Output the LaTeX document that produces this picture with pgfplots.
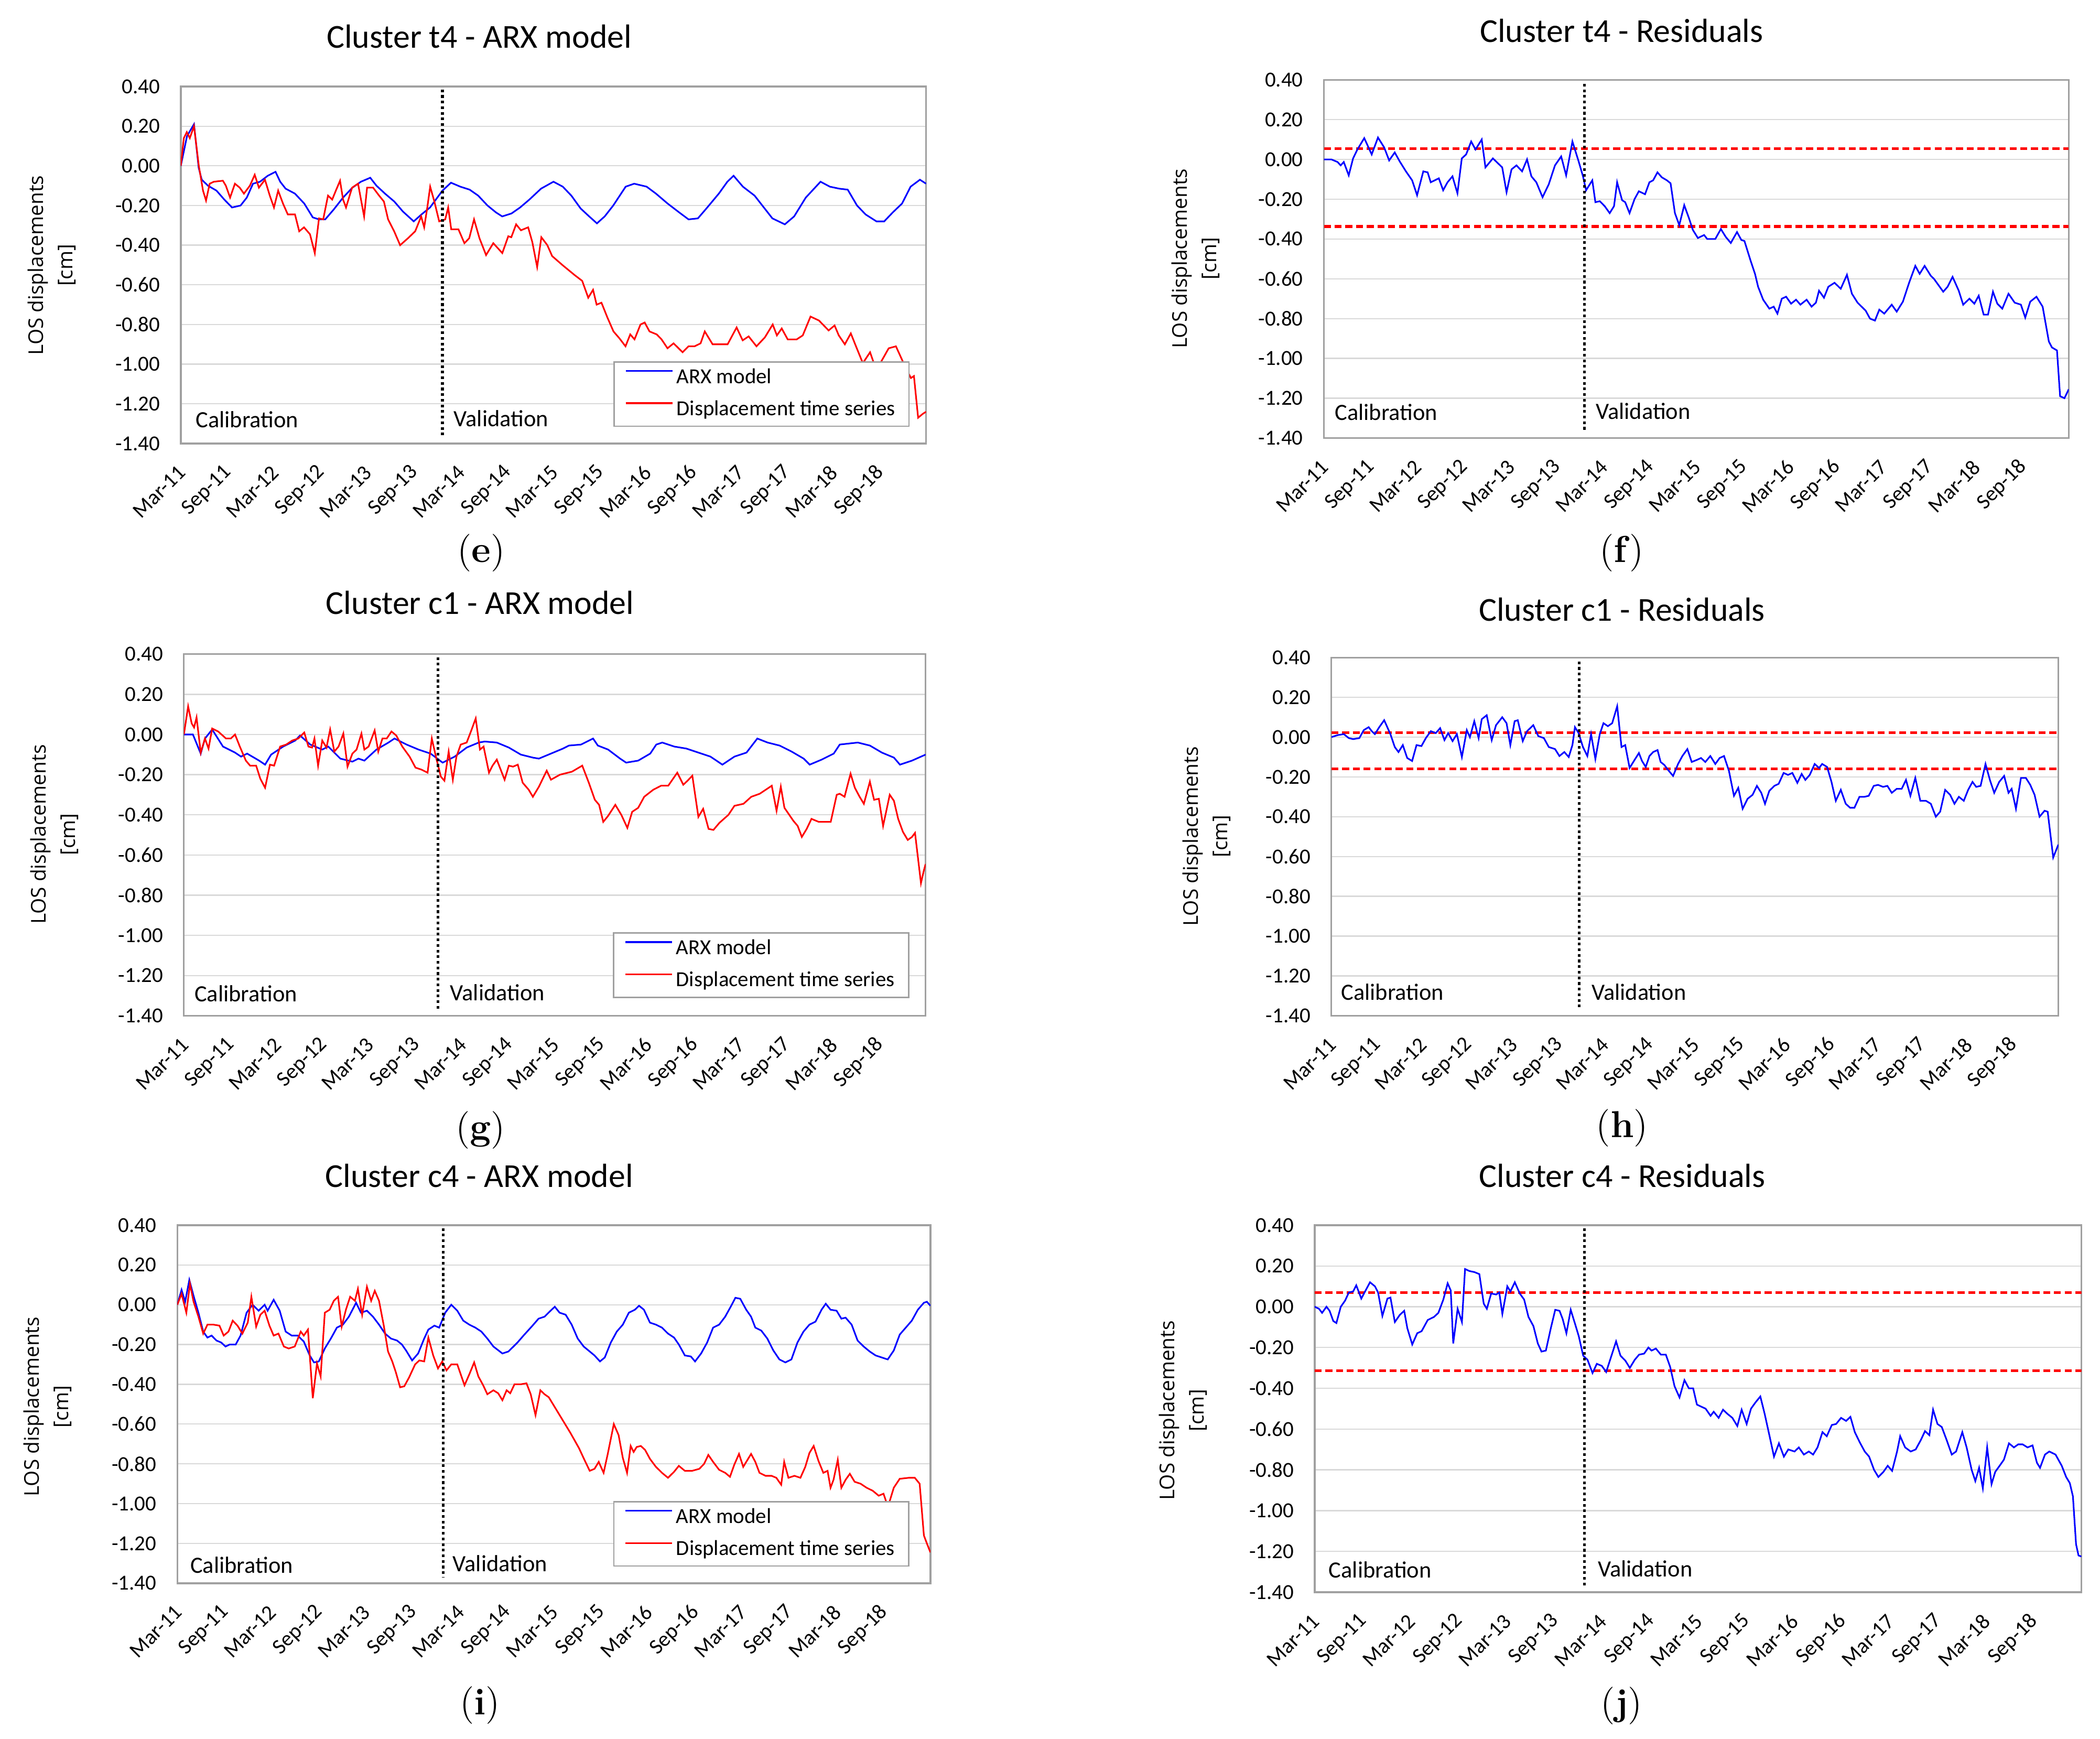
\documentclass[border=0pt]{standalone}
\usepackage{fontspec}
\usepackage{pgfplots}
\pgfplotsset{compat=1.18}
\newfontfamily\calfont{Carlito}
\newfontfamily\osfont{Open Sans}
\definecolor{gridc}{HTML}{D9D9D9}
\definecolor{framec}{HTML}{A0A0A0}
\tikzset{
  blueline/.style={color=blue, line width=0.6pt},
  redline/.style={color=red, line width=0.6pt},
  vline/.style={black, line width=1pt, dash pattern=on 1pt off 1.1pt},
  rline/.style={color=red, line width=1pt, dash pattern=on 2.6pt off 1.4pt},
  ttl/.style={font=\calfont\fontsize{12.5}{15}\selectfont},
  lett/.style={font=\fontsize{14}{16}\selectfont},
  ylab/.style={font=\osfont\fontsize{7.6}{11}\selectfont, rotate=90, align=center},
  inlab/.style={anchor=west, inner sep=0pt, font=\calfont\fontsize{8.7}{10}\selectfont},
}
\pgfplotsset{
  panel/.style={
    scale only axis, anchor=south west,
    xmin=0, xmax=96, ymin=-1.4, ymax=0.4,
    axis line style={draw=framec, line width=0.65pt},
    ytick={-1.4,-1.2,-1,-0.8,-0.6,-0.4,-0.2,0,0.2,0.4},
    yticklabels={-1.40,-1.20,-1.00,-0.80,-0.60,-0.40,-0.20,0.00,0.20,0.40},
    xtick={0,6,12,18,24,30,36,42,48,54,60,66,72,78,84,90},
    xticklabels={Mar-11,Sep-11,Mar-12,Sep-12,Mar-13,Sep-13,Mar-14,Sep-14,Mar-15,Sep-15,Mar-16,Sep-16,Mar-17,Sep-17,Mar-18,Sep-18},
    major tick length=0pt, tick style={draw=none},
    ymajorgrids, grid style={draw=gridc, line width=0.45pt},
    tick label style={font=\calfont\fontsize{8}{9.6}\selectfont},
    yticklabel style={anchor=east, inner sep=0pt, xshift=-7.6pt},
    xticklabel style={inner sep=0pt, xshift=0.5pt, yshift=-9.5pt, rotate=45, anchor=east},
    legend style={anchor=south east, draw=framec, line width=0.5pt, fill=white,
      font=\calfont\fontsize{8}{9.6}\selectfont, inner xsep=4pt, inner ysep=2pt,
      row sep=4pt, nodes={inner xsep=1.2pt, inner ysep=0pt, text height=6pt, text depth=2pt}},
    legend cell align=left,
    legend image code/.code={\draw[#1] (0pt,2.6pt) -- (17.5pt,2.6pt);},
  },
}
\begin{document}
\begin{tikzpicture}
\path[use as bounding box] (0pt,0pt) rectangle (784pt,-649.1pt);

% ---------------- (e) Cluster t4 - ARX model
\begin{axis}[panel, at={(67.5pt,-165.55pt)}, width=278.25pt, height=133.25pt,
  legend style={at={(0.978,0.0465)}}]
\addplot[blueline] coordinates {(0,0.00)(0.8,0.15)(1.7,0.21)(2.3,-0.01)(2.7,-0.07)(3.5,-0.10)(4.6,-0.125)(5.6,-0.17)(6.6,-0.21)(7.7,-0.20)(8.5,-0.16)(9.3,-0.09)(10.2,-0.08)(11.2,-0.05)(12.2,-0.03)(12.8,-0.08)(13.5,-0.115)(14.7,-0.14)(15.9,-0.19)(17.0,-0.26)(17.8,-0.27)(18.6,-0.27)(19.7,-0.22)(20.9,-0.16)(22.1,-0.11)(23.2,-0.08)(24.4,-0.06)(25.2,-0.10)(26.3,-0.14)(27.5,-0.18)(28.6,-0.23)(30.0,-0.28)(31.0,-0.245)(32.1,-0.21)(33.7,-0.125)(34.8,-0.085)(36.0,-0.105)(37.2,-0.12)(38.3,-0.15)(39.5,-0.20)(40.6,-0.235)(41.4,-0.255)(42.6,-0.24)(43.7,-0.21)(44.9,-0.17)(46.4,-0.115)(48.0,-0.08)(49.2,-0.105)(50.3,-0.15)(51.5,-0.215)(52.6,-0.255)(53.6,-0.29)(54.6,-0.255)(55.7,-0.20)(57.3,-0.105)(58.4,-0.09)(60.0,-0.105)(61.2,-0.14)(62.7,-0.19)(64.2,-0.235)(65.4,-0.27)(66.6,-0.265)(67.7,-0.215)(69.3,-0.14)(70.4,-0.08)(71.2,-0.05)(72.4,-0.105)(73.9,-0.15)(75.1,-0.21)(76.2,-0.265)(77.8,-0.295)(79.0,-0.255)(80.5,-0.16)(82.4,-0.08)(83.6,-0.105)(84.8,-0.115)(85.9,-0.12)(87.1,-0.20)(88.2,-0.245)(89.6,-0.28)(90.6,-0.28)(91.7,-0.235)(92.9,-0.19)(94.0,-0.105)(95.2,-0.07)(96,-0.09)};
\addlegendentry{ARX model}
\addplot[redline] coordinates {(0,0.00)(0.39,0.14)(0.77,0.17)(1.16,0.14)(1.70,0.20)(2.32,0.00)(2.86,-0.125)(3.25,-0.175)(3.72,-0.09)(4.26,-0.08)(5.42,-0.075)(5.80,-0.10)(6.35,-0.16)(6.97,-0.09)(7.59,-0.11)(8.13,-0.14)(8.90,-0.10)(9.52,-0.045)(10.06,-0.11)(10.84,-0.07)(11.46,-0.15)(12.0,-0.21)(12.54,-0.125)(13.16,-0.19)(13.78,-0.245)(14.71,-0.245)(15.25,-0.33)(15.87,-0.31)(16.64,-0.345)(17.26,-0.44)(17.80,-0.265)(18.34,-0.27)(18.96,-0.15)(19.50,-0.17)(19.97,-0.125)(20.51,-0.075)(20.90,-0.17)(21.28,-0.21)(22.06,-0.11)(22.83,-0.09)(23.61,-0.255)(23.99,-0.11)(24.77,-0.11)(25.54,-0.15)(26.16,-0.18)(26.70,-0.27)(27.48,-0.33)(28.25,-0.40)(29.26,-0.365)(30.19,-0.33)(30.96,-0.255)(31.35,-0.31)(31.73,-0.215)(32.12,-0.105)(32.66,-0.18)(33.28,-0.28)(34.06,-0.27)(34.44,-0.21)(34.83,-0.32)(35.76,-0.32)(36.53,-0.39)(37.15,-0.365)(37.77,-0.27)(38.47,-0.365)(39.32,-0.45)(40.25,-0.39)(41.41,-0.44)(42.18,-0.355)(42.57,-0.36)(43.19,-0.295)(43.81,-0.325)(44.74,-0.31)(45.28,-0.385)(45.9,-0.51)(46.44,-0.36)(47.21,-0.40)(47.83,-0.455)(49.15,-0.50)(50.70,-0.55)(51.70,-0.58)(52.48,-0.665)(53.10,-0.625)(53.56,-0.70)(54.18,-0.69)(54.95,-0.765)(55.73,-0.835)(56.50,-0.87)(57.28,-0.91)(57.89,-0.85)(58.44,-0.875)(59.21,-0.80)(59.75,-0.79)(60.37,-0.835)(61.30,-0.85)(61.92,-0.875)(62.69,-0.92)(63.47,-0.895)(64.63,-0.94)(65.40,-0.91)(66.18,-0.91)(66.95,-0.895)(67.49,-0.835)(68.50,-0.90)(70.43,-0.90)(71.59,-0.815)(72.37,-0.88)(73.14,-0.86)(74.15,-0.91)(75.23,-0.865)(76.24,-0.80)(76.78,-0.855)(77.40,-0.82)(78.17,-0.875)(79.33,-0.875)(80.11,-0.855)(81.11,-0.76)(82.20,-0.78)(83.44,-0.83)(84.21,-0.805)(84.75,-0.855)(85.53,-0.90)(86.30,-0.845)(87.07,-0.92)(87.85,-0.995)(88.78,-0.94)(89.40,-1.01)(90.17,-0.99)(91.18,-0.92)(92.11,-0.91)(93.27,-1.01)(94.04,-1.07)(94.43,-1.06)(94.97,-1.27)(95.59,-1.25)(96,-1.24)};
\addlegendentry{Displacement time series}
\addplot[vline, forget plot] coordinates {(33.7,0.385)(33.7,-1.37)};
\node[inlab] at (axis cs:1.85,-1.28) {Calibration};
\node[inlab] at (axis cs:35.1,-1.275) {Validation};
\end{axis}

% ---------------- (f) Cluster t4 - Residuals
\begin{axis}[panel, at={(494.25pt,-163.5pt)}, width=278.1pt, height=133.7pt]
\addplot[rline, forget plot] coordinates {(0,0.055)(96,0.055)};
\addplot[rline, forget plot] coordinates {(0,-0.337)(96,-0.337)};
\addplot[blueline] coordinates {(0,0.0)(0.96,0.0)(1.76,-0.013)(2.16,-0.03)(2.56,-0.013)(3.20,-0.08)(3.76,0.005)(4.32,0.05)(5.20,0.107)(6.16,0.025)(6.97,0.11)(7.77,0.06)(8.41,-0.005)(9.13,0.035)(9.77,-0.01)(10.57,-0.06)(11.37,-0.105)(12.01,-0.18)(12.81,-0.06)(13.37,-0.065)(13.77,-0.115)(14.81,-0.095)(15.37,-0.155)(15.93,-0.115)(16.57,-0.085)(17.21,-0.17)(17.77,0.005)(18.33,0.025)(18.98,0.09)(19.54,0.05)(20.34,0.10)(20.82,-0.04)(21.78,0.005)(22.98,-0.04)(23.54,-0.165)(24.18,-0.05)(24.82,-0.03)(25.54,-0.06)(26.18,0.0)(26.74,-0.085)(27.38,-0.115)(28.18,-0.19)(28.98,-0.125)(29.78,-0.03)(30.58,0.015)(31.22,-0.08)(32.03,0.09)(32.83,-0.01)(33.39,-0.085)(33.79,-0.155)(34.59,-0.105)(34.99,-0.215)(35.55,-0.21)(36.19,-0.235)(36.83,-0.27)(37.39,-0.235)(37.79,-0.115)(38.43,-0.205)(38.83,-0.215)(39.39,-0.27)(40.03,-0.20)(40.59,-0.16)(41.39,-0.175)(41.95,-0.115)(42.43,-0.105)(42.99,-0.065)(43.55,-0.09)(44.20,-0.105)(44.68,-0.12)(45.24,-0.27)(45.80,-0.33)(46.44,-0.23)(47.00,-0.29)(47.56,-0.355)(48.20,-0.395)(49.00,-0.38)(49.40,-0.40)(50.44,-0.40)(51.16,-0.35)(51.80,-0.39)(52.44,-0.42)(53.24,-0.365)(53.80,-0.405)(54.20,-0.41)(55.00,-0.51)(55.56,-0.575)(55.96,-0.64)(56.61,-0.705)(57.41,-0.75)(57.97,-0.74)(58.45,-0.775)(59.01,-0.70)(59.57,-0.69)(60.21,-0.725)(60.85,-0.705)(61.41,-0.73)(62.21,-0.705)(62.85,-0.74)(63.41,-0.72)(63.81,-0.66)(64.45,-0.695)(65.01,-0.64)(65.81,-0.62)(66.61,-0.65)(67.41,-0.58)(68.05,-0.675)(68.78,-0.72)(69.82,-0.76)(70.38,-0.80)(71.02,-0.81)(71.58,-0.755)(72.22,-0.775)(73.18,-0.73)(73.82,-0.765)(74.62,-0.715)(75.42,-0.62)(76.22,-0.535)(76.78,-0.575)(77.42,-0.535)(78.22,-0.585)(78.62,-0.60)(79.82,-0.665)(80.38,-0.64)(81.02,-0.59)(81.82,-0.66)(82.39,-0.73)(83.19,-0.70)(83.83,-0.725)(84.39,-0.685)(85.03,-0.78)(85.59,-0.78)(86.23,-0.665)(86.79,-0.725)(87.43,-0.75)(88.23,-0.675)(89.03,-0.72)(89.83,-0.73)(90.39,-0.795)(91.03,-0.715)(91.83,-0.69)(92.63,-0.74)(93.43,-0.915)(93.83,-0.945)(94.48,-0.96)(94.88,-1.19)(95.44,-1.20)(96,-1.155)};
\addplot[vline, forget plot] coordinates {(33.6,0.38)(33.6,-1.37)};
\node[inlab] at (axis cs:1.35,-1.27) {Calibration};
\node[inlab] at (axis cs:35.0,-1.265) {Validation};
\end{axis}

% ---------------- (g) Cluster c1 - ARX model
\begin{axis}[panel, at={(68.65pt,-379.15pt)}, width=276.9pt, height=134.95pt,
  legend style={at={(0.978,0.049)}}]
\addplot[blueline] coordinates {(0,0.0)(1.17,0.0)(2.18,-0.095)(2.73,-0.02)(3.66,0.025)(5.06,-0.06)(6.62,-0.09)(7.40,-0.11)(8.18,-0.095)(9.74,-0.13)(10.51,-0.15)(11.29,-0.10)(12.85,-0.06)(14.41,-0.03)(15.03,-0.005)(16.36,-0.05)(17.91,-0.075)(18.69,-0.06)(20.25,-0.12)(21.81,-0.135)(22.59,-0.12)(23.36,-0.13)(24.92,-0.075)(26.48,-0.04)(27.26,-0.02)(28.82,-0.05)(30.37,-0.075)(31.93,-0.095)(33.49,-0.14)(35.05,-0.11)(36.60,-0.065)(38.16,-0.04)(38.94,-0.035)(40.50,-0.04)(42.06,-0.065)(43.61,-0.10)(45.17,-0.115)(45.95,-0.12)(47.51,-0.095)(49.07,-0.07)(49.84,-0.055)(51.40,-0.05)(52.96,-0.02)(53.58,-0.055)(54.91,-0.075)(56.46,-0.12)(57.24,-0.14)(58.80,-0.13)(60.36,-0.095)(61.14,-0.05)(61.92,-0.04)(63.47,-0.06)(65.03,-0.07)(66.59,-0.09)(68.15,-0.11)(69.70,-0.15)(71.26,-0.11)(72.82,-0.09)(74.22,-0.02)(75.55,-0.04)(77.10,-0.055)(78.66,-0.085)(80.22,-0.12)(81.00,-0.15)(82.55,-0.125)(84.11,-0.095)(84.89,-0.05)(87.23,-0.04)(88.79,-0.055)(90.34,-0.09)(91.90,-0.115)(92.68,-0.15)(94.24,-0.13)(96,-0.10)};
\addlegendentry{ARX model}
\addplot[redline] coordinates {(0,0.0)(0.55,0.14)(1.01,0.055)(1.32,0.035)(1.64,0.085)(2.18,-0.09)(2.73,-0.02)(3.19,-0.07)(3.66,0.03)(4.44,0.015)(5.45,-0.02)(6.07,-0.02)(6.62,0.0)(7.24,-0.06)(8.02,-0.13)(8.57,-0.155)(9.35,-0.155)(9.89,-0.22)(10.51,-0.265)(11.14,-0.15)(11.68,-0.155)(12.46,-0.06)(13.24,-0.05)(14.02,-0.03)(14.80,-0.02)(15.58,0.01)(16.12,-0.06)(16.59,-0.065)(16.90,-0.02)(17.37,-0.155)(17.91,-0.03)(18.46,-0.065)(18.93,0.025)(19.47,-0.085)(20.02,-0.06)(20.64,0.005)(21.18,-0.16)(21.81,-0.095)(22.35,-0.075)(22.98,0.005)(23.36,-0.075)(23.91,-0.06)(24.69,0.02)(25.16,-0.085)(25.70,-0.02)(26.25,-0.02)(26.87,0.015)(27.49,-0.005)(28.27,-0.06)(29.21,-0.11)(29.98,-0.165)(30.76,-0.175)(31.54,-0.19)(32.09,-0.02)(32.71,-0.125)(33.26,-0.21)(33.72,-0.23)(34.27,-0.085)(34.81,-0.225)(35.28,-0.11)(35.83,-0.05)(36.60,-0.04)(37.15,0.015)(37.77,0.08)(38.32,-0.075)(38.79,-0.06)(39.49,-0.19)(39.95,-0.155)(40.50,-0.125)(41.51,-0.225)(42.06,-0.155)(42.60,-0.16)(43.22,-0.15)(43.85,-0.24)(44.63,-0.275)(45.17,-0.31)(45.95,-0.26)(46.96,-0.18)(47.51,-0.225)(48.68,-0.20)(50.23,-0.185)(51.56,-0.155)(52.41,-0.24)(53.19,-0.325)(53.74,-0.35)(54.28,-0.435)(54.91,-0.405)(55.84,-0.35)(56.62,-0.40)(57.40,-0.465)(58.02,-0.385)(58.80,-0.365)(59.58,-0.31)(60.75,-0.275)(61.76,-0.255)(62.69,-0.255)(63.86,-0.19)(64.64,-0.25)(65.19,-0.23)(65.81,-0.205)(66.59,-0.41)(67.21,-0.37)(67.91,-0.47)(68.54,-0.475)(69.31,-0.44)(70.48,-0.40)(71.26,-0.355)(72.43,-0.345)(73.44,-0.31)(74.53,-0.295)(76.09,-0.255)(76.71,-0.38)(77.26,-0.26)(77.73,-0.365)(78.89,-0.43)(79.44,-0.455)(79.98,-0.51)(80.61,-0.47)(81.23,-0.42)(82.17,-0.435)(83.72,-0.435)(84.50,-0.30)(84.89,-0.295)(85.51,-0.31)(86.29,-0.195)(86.84,-0.265)(87.46,-0.31)(88.01,-0.345)(88.79,-0.235)(89.33,-0.325)(89.95,-0.32)(90.50,-0.455)(90.89,-0.385)(91.36,-0.30)(91.90,-0.33)(92.45,-0.42)(93.07,-0.485)(93.69,-0.525)(94.24,-0.51)(94.63,-0.49)(95.40,-0.74)(95.79,-0.675)(96,-0.645)};
\addlegendentry{Displacement time series}
\addplot[vline, forget plot] coordinates {(32.9,0.385)(32.9,-1.37)};
\node[inlab] at (axis cs:1.32,-1.29) {Calibration};
\node[inlab] at (axis cs:34.4,-1.285) {Validation};
\end{axis}

% ---------------- (h) Cluster c1 - Residuals
\begin{axis}[panel, at={(497.05pt,-379.15pt)}, width=271.4pt, height=133.7pt]
\addplot[rline, forget plot] coordinates {(0,0.022)(96,0.022)};
\addplot[rline, forget plot] coordinates {(0,-0.16)(96,-0.16)};
\addplot[blueline] coordinates {(0,0.0)(0.82,0.01)(1.64,0.015)(2.30,-0.005)(2.87,-0.01)(3.69,-0.005)(4.27,0.035)(4.92,0.05)(5.33,0.03)(5.74,0.015)(6.32,0.05)(6.97,0.085)(7.79,0.015)(8.37,-0.05)(8.86,-0.075)(9.43,-0.04)(10.01,-0.105)(10.66,-0.12)(11.24,-0.04)(11.89,-0.045)(12.47,-0.005)(13.13,0.03)(13.78,0.02)(14.36,0.045)(14.93,-0.015)(15.42,0.02)(16.00,-0.02)(16.57,0.015)(17.23,-0.10)(17.88,0.035)(18.29,0.0)(18.87,0.08)(19.44,-0.005)(19.85,0.09)(20.51,0.11)(21.17,-0.015)(21.74,0.06)(22.56,0.10)(23.13,0.07)(23.63,-0.04)(24.20,0.08)(24.61,0.085)(25.27,-0.02)(25.84,0.03)(26.66,0.06)(27.32,0.005)(28.06,-0.005)(28.71,-0.05)(29.53,-0.06)(30.11,-0.095)(30.76,-0.075)(31.34,-0.10)(31.83,-0.04)(32.16,0.05)(32.65,0.02)(33.22,-0.05)(33.80,-0.095)(34.29,0.015)(34.86,-0.11)(35.44,0.015)(35.93,0.07)(36.51,0.055)(37.08,0.07)(37.74,0.155)(38.31,-0.05)(38.80,-0.04)(39.38,-0.155)(40.03,-0.115)(40.61,-0.08)(41.02,-0.12)(41.51,-0.15)(42.00,-0.095)(42.49,-0.075)(43.07,-0.065)(43.48,-0.125)(43.97,-0.14)(44.46,-0.165)(45.12,-0.195)(45.78,-0.135)(46.35,-0.095)(47.01,-0.06)(47.58,-0.125)(48.24,-0.115)(48.81,-0.105)(49.38,-0.125)(50.04,-0.095)(50.70,-0.135)(51.27,-0.105)(51.85,-0.095)(52.50,-0.17)(53.16,-0.295)(53.73,-0.255)(54.31,-0.36)(54.96,-0.31)(55.62,-0.29)(56.19,-0.245)(56.77,-0.28)(57.26,-0.335)(57.83,-0.27)(58.49,-0.245)(59.06,-0.235)(59.72,-0.18)(60.30,-0.19)(60.87,-0.18)(61.53,-0.23)(62.10,-0.185)(62.59,-0.215)(63.17,-0.19)(63.82,-0.135)(64.40,-0.155)(64.81,-0.135)(65.46,-0.15)(66.04,-0.225)(66.61,-0.32)(67.27,-0.265)(67.92,-0.335)(68.50,-0.355)(69.07,-0.355)(69.73,-0.30)(70.39,-0.30)(70.96,-0.295)(71.62,-0.245)(72.19,-0.24)(72.85,-0.25)(73.42,-0.245)(74.00,-0.28)(74.65,-0.26)(75.31,-0.26)(75.88,-0.215)(76.46,-0.295)(77.11,-0.205)(77.77,-0.32)(78.51,-0.32)(79.16,-0.335)(79.82,-0.40)(80.39,-0.375)(81.05,-0.265)(81.71,-0.29)(82.28,-0.335)(82.86,-0.30)(83.51,-0.32)(84.09,-0.265)(84.66,-0.225)(85.15,-0.25)(85.73,-0.245)(86.38,-0.135)(86.96,-0.215)(87.53,-0.28)(88.19,-0.225)(88.84,-0.195)(89.42,-0.28)(89.83,-0.26)(90.40,-0.36)(91.06,-0.205)(91.71,-0.205)(92.29,-0.24)(92.86,-0.29)(93.52,-0.40)(94.18,-0.37)(94.59,-0.375)(95.32,-0.605)(96,-0.54)};
\addplot[vline, forget plot] coordinates {(32.7,0.38)(32.7,-1.37)};
\node[inlab] at (axis cs:1.22,-1.28) {Calibration};
\node[inlab] at (axis cs:34.3,-1.28) {Validation};
\end{axis}

% ---------------- (i) Cluster c4 - ARX model
\begin{axis}[panel, at={(66.2pt,-591pt)}, width=281.15pt, height=133.65pt,
  legend style={at={(0.972,0.046)}}]
\addplot[blueline] coordinates {(0,0.0)(0.54,0.075)(1.0,0.015)(1.53,0.125)(2.07,0.045)(2.69,-0.04)(3.30,-0.135)(3.84,-0.165)(4.37,-0.155)(4.99,-0.18)(5.60,-0.19)(6.14,-0.21)(6.68,-0.20)(7.44,-0.20)(8.06,-0.155)(8.83,-0.04)(9.59,0.0)(10.36,-0.03)(11.13,0.0)(11.51,-0.03)(12.28,0.025)(13.05,-0.03)(13.81,-0.135)(14.58,-0.155)(15.35,-0.155)(16.12,-0.185)(16.88,-0.255)(17.42,-0.29)(18.04,-0.285)(18.80,-0.22)(19.57,-0.17)(20.34,-0.115)(21.11,-0.10)(21.87,-0.06)(22.79,0.01)(23.41,-0.04)(24.17,-0.03)(24.94,-0.06)(25.71,-0.10)(26.48,-0.145)(27.24,-0.17)(28.01,-0.18)(28.63,-0.20)(29.16,-0.23)(29.93,-0.28)(30.70,-0.245)(31.47,-0.17)(32.00,-0.125)(32.77,-0.105)(33.38,-0.115)(34.15,-0.04)(34.92,0.0)(35.69,-0.03)(36.45,-0.08)(37.22,-0.10)(37.99,-0.115)(38.76,-0.135)(39.52,-0.17)(40.29,-0.21)(41.44,-0.245)(42.21,-0.235)(43.36,-0.19)(44.13,-0.155)(45.28,-0.105)(46.05,-0.07)(46.81,-0.06)(47.58,-0.03)(48.12,-0.01)(48.73,-0.04)(49.50,-0.05)(50.27,-0.10)(51.04,-0.17)(51.80,-0.21)(52.57,-0.235)(53.18,-0.255)(53.88,-0.285)(54.49,-0.265)(55.26,-0.19)(56.02,-0.135)(56.79,-0.10)(57.56,-0.04)(58.33,-0.025)(58.86,-0.005)(59.48,-0.025)(60.25,-0.09)(61.01,-0.10)(61.78,-0.115)(62.55,-0.145)(63.32,-0.165)(63.93,-0.20)(64.70,-0.255)(65.46,-0.26)(66.0,-0.285)(66.77,-0.245)(67.54,-0.19)(68.30,-0.115)(69.07,-0.10)(69.84,-0.06)(70.61,-0.005)(71.14,0.035)(71.76,0.03)(72.52,-0.025)(73.14,-0.06)(73.68,-0.115)(74.44,-0.13)(75.21,-0.17)(75.98,-0.23)(76.75,-0.275)(77.51,-0.29)(78.28,-0.275)(79.05,-0.19)(79.82,-0.135)(80.58,-0.10)(81.35,-0.085)(82.12,-0.025)(82.66,0.005)(83.27,-0.025)(84.04,-0.03)(84.65,-0.07)(85.19,-0.065)(85.96,-0.10)(86.72,-0.18)(87.49,-0.21)(88.26,-0.235)(89.02,-0.255)(89.79,-0.265)(90.56,-0.275)(91.33,-0.23)(92.09,-0.15)(92.86,-0.115)(93.63,-0.08)(94.40,-0.025)(95.17,0.01)(95.55,0.015)(96,-0.005)};
\addlegendentry{ARX model}
\addplot[redline] coordinates {(0,0.0)(0.54,0.055)(1.15,-0.04)(1.61,0.105)(2.07,0.015)(2.69,-0.06)(3.30,-0.145)(3.84,-0.10)(4.60,-0.10)(5.37,-0.105)(5.91,-0.155)(6.52,-0.135)(7.06,-0.08)(7.67,-0.105)(8.29,-0.145)(8.98,-0.09)(9.44,0.04)(10.05,-0.11)(10.59,-0.05)(11.13,-0.03)(11.74,-0.105)(12.28,-0.155)(12.89,-0.145)(13.58,-0.21)(14.20,-0.22)(14.97,-0.21)(15.73,-0.135)(16.12,-0.155)(16.65,-0.125)(17.27,-0.47)(17.80,-0.295)(18.27,-0.36)(18.80,-0.04)(19.42,-0.025)(19.95,0.02)(20.49,0.04)(20.95,-0.11)(21.49,-0.025)(22.03,0.04)(22.64,0.02)(23.02,0.08)(23.56,-0.05)(24.17,0.09)(24.71,0.02)(25.17,0.07)(25.71,0.02)(26.32,-0.105)(26.86,-0.235)(27.40,-0.285)(27.86,-0.34)(28.40,-0.415)(28.93,-0.41)(29.55,-0.365)(30.31,-0.30)(30.85,-0.28)(31.47,-0.285)(32.00,-0.165)(32.62,-0.255)(33.23,-0.32)(33.77,-0.285)(34.31,-0.33)(34.92,-0.30)(35.69,-0.30)(36.61,-0.405)(37.22,-0.35)(37.84,-0.29)(38.37,-0.36)(38.99,-0.405)(39.52,-0.45)(40.29,-0.43)(40.90,-0.445)(41.44,-0.48)(41.98,-0.43)(42.44,-0.445)(42.98,-0.40)(43.75,-0.40)(44.51,-0.395)(45.05,-0.45)(45.66,-0.555)(46.28,-0.43)(46.81,-0.45)(47.35,-0.465)(48.12,-0.515)(49.12,-0.58)(50.12,-0.645)(51.19,-0.72)(51.96,-0.785)(52.57,-0.835)(53.18,-0.825)(53.72,-0.79)(54.34,-0.845)(54.87,-0.75)(55.64,-0.60)(56.25,-0.655)(56.79,-0.77)(57.33,-0.845)(57.79,-0.71)(58.17,-0.74)(58.56,-0.715)(59.09,-0.71)(59.63,-0.73)(60.25,-0.775)(61.01,-0.815)(61.78,-0.845)(62.55,-0.87)(63.32,-0.84)(63.93,-0.81)(64.70,-0.835)(65.62,-0.835)(66.54,-0.825)(67.15,-0.80)(67.69,-0.755)(68.30,-0.79)(69.07,-0.83)(69.84,-0.845)(70.45,-0.865)(70.99,-0.805)(71.60,-0.75)(72.14,-0.815)(72.68,-0.78)(73.14,-0.75)(73.68,-0.79)(74.21,-0.845)(74.98,-0.86)(75.75,-0.86)(76.36,-0.87)(76.98,-0.905)(77.36,-0.79)(77.90,-0.87)(78.67,-0.86)(79.43,-0.87)(80.05,-0.815)(80.58,-0.745)(81.12,-0.71)(81.73,-0.785)(82.35,-0.845)(82.89,-0.835)(83.27,-0.92)(83.65,-0.88)(84.19,-0.78)(84.65,-0.92)(85.19,-0.88)(85.73,-0.85)(86.34,-0.89)(87.11,-0.90)(87.87,-0.92)(88.64,-0.935)(89.41,-0.96)(90.02,-0.95)(90.41,-0.995)(90.79,-0.99)(91.33,-0.92)(92.09,-0.875)(93.25,-0.87)(94.01,-0.87)(94.63,-0.90)(95.17,-1.16)(95.55,-1.20)(96,-1.245)};
\addlegendentry{Displacement time series}
\addplot[vline, forget plot] coordinates {(33.9,0.385)(33.9,-1.37)};
\node[inlab] at (axis cs:1.6,-1.31) {Calibration};
\node[inlab] at (axis cs:35.05,-1.30) {Validation};
\end{axis}

% ---------------- (j) Cluster c4 - Residuals
\begin{axis}[panel, at={(490.8pt,-594.35pt)}, width=286.25pt, height=137pt]
\addplot[rline, forget plot] coordinates {(0,0.07)(96,0.07)};
\addplot[rline, forget plot] coordinates {(0,-0.313)(96,-0.313)};
\addplot[blueline] coordinates {(0,0.0)(0.54,-0.01)(0.93,-0.03)(1.48,0.0)(1.87,-0.02)(2.33,-0.07)(2.72,-0.08)(3.27,0.0)(3.81,0.03)(4.28,0.07)(4.82,0.075)(5.21,0.105)(5.84,0.04)(6.38,0.08)(6.93,0.12)(7.55,0.10)(7.94,0.07)(8.48,-0.045)(9.11,0.04)(9.49,0.045)(10.04,-0.075)(10.66,-0.04)(11.21,-0.02)(11.60,-0.105)(12.22,-0.185)(12.84,-0.13)(13.39,-0.12)(14.16,-0.065)(14.94,-0.05)(15.49,-0.03)(16.11,0.035)(16.65,0.115)(17.04,0.08)(17.35,-0.18)(17.90,-0.01)(18.44,-0.075)(18.83,0.185)(19.38,0.175)(20.0,0.17)(20.62,0.16)(21.17,0.015)(21.56,-0.01)(22.10,0.065)(22.72,0.06)(23.11,0.07)(23.50,-0.035)(24.12,0.10)(24.51,0.075)(25.06,0.12)(25.68,0.065)(26.23,0.035)(26.77,-0.05)(27.39,-0.095)(27.94,-0.18)(28.40,-0.22)(28.95,-0.215)(29.57,-0.105)(30.12,-0.015)(30.66,-0.02)(31.05,-0.06)(31.52,-0.13)(32.06,-0.015)(32.61,-0.085)(33.07,-0.145)(33.62,-0.24)(34.16,-0.26)(34.79,-0.325)(35.33,-0.28)(35.95,-0.29)(36.50,-0.32)(37.12,-0.245)(37.74,-0.17)(38.29,-0.24)(38.91,-0.265)(39.46,-0.30)(40.08,-0.26)(40.62,-0.235)(41.25,-0.23)(41.79,-0.20)(42.18,-0.215)(42.72,-0.205)(43.35,-0.235)(43.97,-0.235)(44.51,-0.295)(45.06,-0.39)(45.68,-0.445)(46.30,-0.36)(46.85,-0.40)(47.39,-0.40)(47.86,-0.48)(48.40,-0.49)(48.95,-0.50)(49.57,-0.535)(49.96,-0.515)(50.58,-0.545)(51.13,-0.505)(51.67,-0.525)(52.30,-0.545)(52.92,-0.585)(53.46,-0.505)(54.09,-0.575)(54.63,-0.50)(55.18,-0.47)(55.80,-0.44)(56.34,-0.525)(56.96,-0.635)(57.51,-0.735)(58.13,-0.67)(58.75,-0.735)(59.30,-0.70)(60.08,-0.71)(60.62,-0.69)(61.25,-0.725)(61.87,-0.71)(62.41,-0.725)(62.96,-0.69)(63.58,-0.615)(64.12,-0.635)(64.75,-0.58)(65.29,-0.575)(65.91,-0.545)(66.54,-0.56)(67.08,-0.54)(67.63,-0.615)(68.25,-0.665)(68.87,-0.71)(69.42,-0.735)(70.04,-0.80)(70.58,-0.835)(71.21,-0.81)(71.75,-0.78)(72.30,-0.805)(72.92,-0.71)(73.31,-0.635)(73.93,-0.69)(74.63,-0.71)(75.25,-0.70)(75.88,-0.655)(76.42,-0.61)(76.96,-0.63)(77.43,-0.505)(77.98,-0.575)(78.52,-0.59)(79.14,-0.655)(79.77,-0.725)(80.31,-0.71)(81.09,-0.615)(81.63,-0.69)(82.26,-0.80)(82.72,-0.855)(83.19,-0.79)(83.66,-0.89)(84.20,-0.69)(84.75,-0.87)(85.21,-0.81)(85.76,-0.78)(86.30,-0.75)(86.93,-0.67)(87.55,-0.69)(88.09,-0.675)(88.64,-0.675)(89.26,-0.69)(89.88,-0.68)(90.43,-0.765)(90.82,-0.79)(91.44,-0.725)(91.98,-0.71)(92.76,-0.725)(93.54,-0.78)(94.09,-0.835)(94.55,-0.865)(94.94,-0.93)(95.33,-1.165)(95.64,-1.22)(96,-1.225)};
\addplot[vline, forget plot] coordinates {(33.8,0.385)(33.8,-1.37)};
\node[inlab] at (axis cs:1.71,-1.29) {Calibration};
\node[inlab] at (axis cs:35.4,-1.285) {Validation};
\end{axis}

% ---------------- titles, y labels, panel letters
\node[ttl] at (178.9pt,-13.7pt) {Cluster t4 - ARX model};
\node[ttl] at (605.4pt,-11.5pt) {Cluster t4 - Residuals};
\node[ttl] at (179.2pt,-225pt) {Cluster c1 - ARX model};
\node[ttl] at (605.5pt,-227.5pt) {Cluster c1 - Residuals};
\node[ttl] at (178.9pt,-438.8pt) {Cluster c4 - ARX model};
\node[ttl] at (605.6pt,-438.9pt) {Cluster c4 - Residuals};

\node[ylab] at (19.3pt,-99pt) {LOS displacements\\\relax [cm]};
\node[ylab] at (446.3pt,-96.5pt) {LOS displacements\\\relax [cm]};
\node[ylab] at (20.3pt,-311.5pt) {LOS displacements\\\relax [cm]};
\node[ylab] at (450.4pt,-312.2pt) {LOS displacements\\\relax [cm]};
\node[ylab] at (17.7pt,-525.1pt) {LOS displacements\\\relax [cm]};
\node[ylab] at (441.7pt,-526.5pt) {LOS displacements\\\relax [cm]};

\node[lett] at (179.6pt,-206.5pt) {(\textbf{e})};
\node[lett] at (605.4pt,-206.5pt) {(\textbf{f})};
\node[lett] at (179.4pt,-421.8pt) {(\textbf{g})};
\node[lett] at (605.6pt,-421pt) {(\textbf{h})};
\node[lett] at (179.2pt,-636.5pt) {(\textbf{i})};
\node[lett] at (605.4pt,-636.8pt) {(\textbf{j})};
\end{tikzpicture}
\end{document}
